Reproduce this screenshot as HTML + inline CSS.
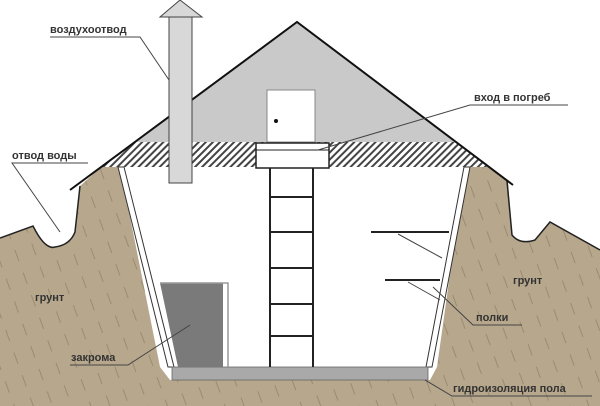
<!DOCTYPE html>
<html><head><meta charset="utf-8"><style>
html,body{margin:0;padding:0;background:#fff;}
svg{display:block}
text{font-family:"Liberation Sans","DejaVu Sans",sans-serif;font-size:11px;fill:#333;font-weight:bold}
</style></head><body>
<svg width="600" height="406" viewBox="0 0 600 406" xmlns="http://www.w3.org/2000/svg">
<defs>
<pattern id="h" width="5" height="5" patternUnits="userSpaceOnUse" patternTransform="rotate(45)">
<rect width="5" height="5" fill="#fff"/><rect width="2" height="5" fill="#444"/>
</pattern>
<pattern id="s" width="18" height="24" patternUnits="userSpaceOnUse" patternTransform="rotate(-20)">
<rect width="18" height="24" fill="#b7a78c"/><rect x="0" y="0" width="1" height="12" fill="#9a8b72"/>
</pattern>
</defs>
<polygon points="297,22 135,142 456,142" fill="#c9c9c9"/>
<polygon points="135,142 456,142 489,167 101,167" fill="url(#h)"/>
<path d="M0,238 L33,226 Q45,250 55,247 Q70,245 75,232 L80,186 L101,167 L120,167 L160,367 L170,380 L430,380 L437,367 L465,167 L489,167 L508,182 L512,235 Q520,245 535,240 L550,222 L600,250 L600,406 L0,406 Z" fill="url(#s)"/>
<path d="M0,238 L33,226 Q45,250 55,247 Q70,245 75,232 L80,186" fill="none" stroke="#222" stroke-width="1.5"/>
<path d="M507,181 L512,235 Q520,245 535,240 L550,222 L600,250" fill="none" stroke="#222" stroke-width="1.5"/>
<polygon points="124,167 464,167 428,367 168,367" fill="#fff"/>
<polygon points="118,167 124,167 174,367 168,367" fill="#fff" stroke="#333" stroke-width="1"/>
<polygon points="464,167 470,167 432,367 426,367" fill="#fff" stroke="#333" stroke-width="1"/>
<rect x="172" y="367" width="256" height="13" fill="#a9a9a9" stroke="#666" stroke-width="0.8"/>
<polygon points="160,283 223,283 223,367 178,367" fill="#7a7a7a"/>
<polyline points="160,283 228,283 228,367" fill="none" stroke="#999" stroke-width="1.5"/>
<polyline points="70,190 297,22 513,185" fill="none" stroke="#111" stroke-width="2"/>
<rect x="169" y="17" width="23" height="166" fill="#d8d8d8" stroke="#444" stroke-width="1"/>
<polygon points="180,0 160,17 202,17" fill="#d8d8d8" stroke="#444" stroke-width="1"/>
<rect x="267" y="90" width="48" height="52" fill="#fff" stroke="#888" stroke-width="1"/>
<circle cx="276" cy="121" r="2" fill="#111"/>
<rect x="256" y="143" width="73" height="25" fill="#fff" stroke="#222" stroke-width="1.5"/>
<line x1="256" y1="150" x2="329" y2="150" stroke="#222" stroke-width="1"/>
<g stroke="#222" stroke-width="2">
<line x1="270" y1="168" x2="270" y2="367"/><line x1="313" y1="168" x2="313" y2="367"/>
<line x1="270" y1="197" x2="313" y2="197"/><line x1="270" y1="232" x2="313" y2="232"/>
<line x1="270" y1="268" x2="313" y2="268"/><line x1="270" y1="304" x2="313" y2="304"/>
<line x1="270" y1="336" x2="313" y2="336"/>
</g>
<line x1="371" y1="232" x2="449" y2="232" stroke="#222" stroke-width="2"/>
<line x1="385" y1="280" x2="440" y2="280" stroke="#222" stroke-width="2"/>
<g stroke="#444" stroke-width="1" fill="none">
<polyline points="50,37 140,37 169,80"/>
<polyline points="568,105 470,105 318,150"/>
<polyline points="88,163 12,163 60,232"/>
<polyline points="398,234 442,258"/>
<polyline points="408,282 440,300"/>
<polyline points="433,287 473,325 522,325"/>
<polyline points="70,365 128,365 190,325"/>
<polyline points="425,380 452,396 592,396"/>
</g>
<text x="50" y="33">воздухоотвод</text>
<text x="474" y="101">вход в погреб</text>
<text x="12" y="159">отвод воды</text>
<text x="35" y="301">грунт</text>
<text x="513" y="284">грунт</text>
<text x="476" y="321">полки</text>
<text x="71" y="361">закрома</text>
<text x="453" y="392">гидроизоляция пола</text>
</svg>
</body></html>
